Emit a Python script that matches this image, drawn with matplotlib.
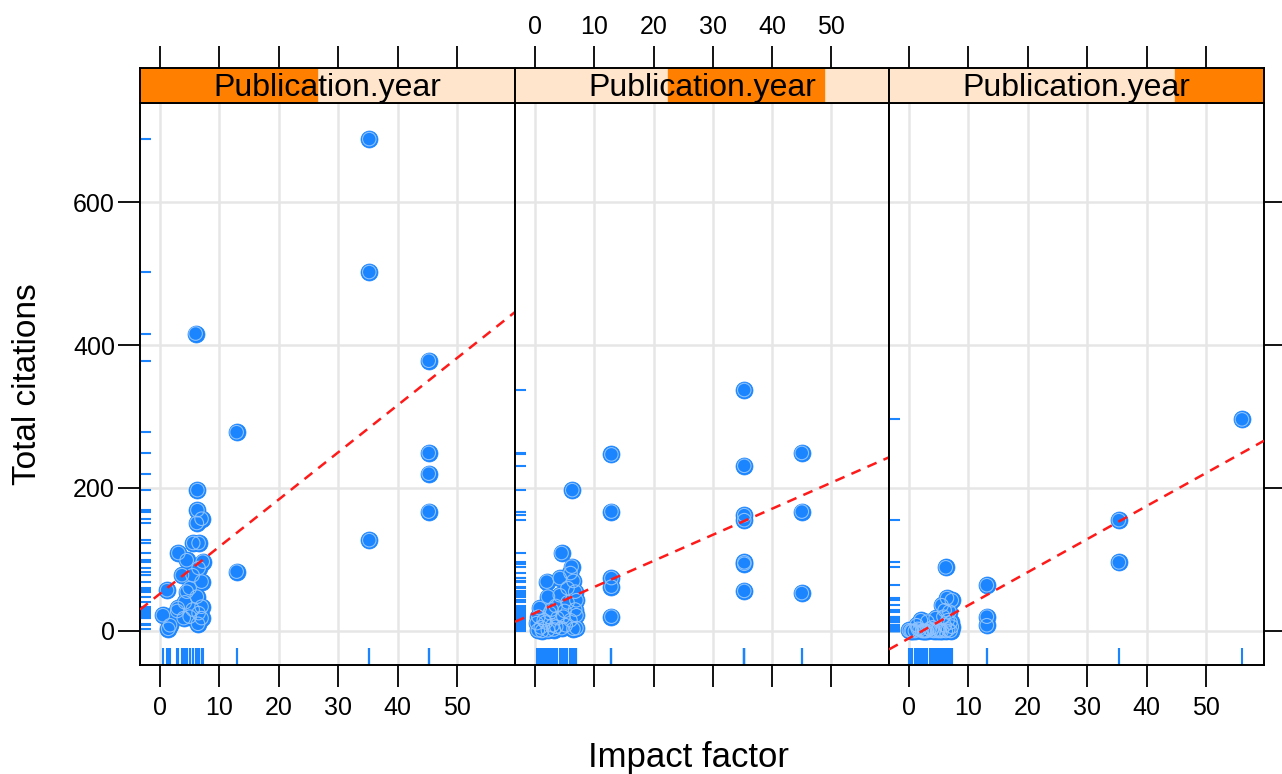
import numpy as np
import matplotlib
matplotlib.use("Agg")
import matplotlib.pyplot as plt

plt.rcParams['font.family'] = ['Liberation Sans', 'DejaVu Sans']

# ---------------- data ----------------
p1_x = [35.2, 35.2, 6.0, 45.2, 12.9, 45.2, 45.2, 45.2, 35.2, 12.9,
        6.3, 6.3, 7.0, 6.2, 5.6, 6.5, 3.1, 4.5, 7.2, 3.7, 5.5, 7.0, 4.5, 1.2,
        6.2, 3.0, 7.0, 5.0, 7.0, 0.5, 1.4, 4.2, 5.5, 6.5, 5.0, 6.5, 2.9, 1.7,
        6.4, 4.0]
p1_y = [688, 502, 416, 378, 278, 249, 220, 167, 127, 83,
        197, 169, 157, 151, 123, 123, 109, 99, 97, 78, 78, 69, 55, 57,
        48, 32, 34, 20, 18, 22, 3, 40, 30, 25, 60, 88, 28, 8,
        10, 18]

p2_x = [35.3, 35.3, 35.3, 35.3, 35.3, 35.3, 35.3, 45.0, 45.0, 45.0,
        12.9, 12.9, 12.9, 12.9, 12.9, 6.3,
        4.5, 6.2, 6.0, 2.0, 4.2, 2.2, 4.2, 7.0, 0.8, 2.5, 7.0, 0.3, 0.5,
        2.2, 4.5, 7.0, 5.5, 6.5, 3.5, 5.0, 6.0, 1.5, 3.0, 5.5, 6.8,
        1.0, 1.8, 3.2, 3.8, 5.2, 6.5, 2.8, 4.8, 0.6, 6.8, 1.2, 3.6]
p2_y = [337, 231, 162, 155, 96, 94, 56, 249, 167, 53,
        247, 167, 74, 62, 20, 197,
        109, 90, 81, 69, 74, 48, 50, 43, 32, 25, 22, 11, 1,
        1, 4, 4, 60, 70, 35, 28, 15, 15, 8, 40, 55,
        5, 12, 2, 18, 8, 3, 30, 20, 20, 30, 0, 6]

p3_x = [56.0, 35.3, 35.3, 13.1, 13.1, 13.1, 6.2, 6.4, 7.2, 5.5, 6.0, 6.8,
        4.5, 3.1, 2.0, 1.3, 0.0, 2.5, 5.0, 7.2, 6.5, 5.8, 4.0, 3.5, 1.8,
        0.5, 6.0, 7.0,
        0.3, 1.0, 2.2, 3.0, 4.2, 5.5, 6.2, 7.0, 1.5, 4.8, 3.8, 6.6,
        2.7, 5.2]
p3_y = [296, 155, 96, 64, 20, 8, 89, 46, 43, 36, 29, 27,
        18, 13, 15, 8, 1, 0, 2, 6, 15, 20, 5, 3, 2,
        0, 8, 12,
        0, 0, 0, 0, 0, 0, 0, 0, 3, 0, 1, 2,
        0, 0]

panels_x = [p1_x, p2_x, p3_x]
panels_y = [p1_y, p2_y, p3_y]

# shingle level intervals of Publication.year, as fraction of the year range
shingle_lo = [0.0, 0.41, 0.763]
shingle_hi = [0.472, 0.826, 1.0]
strip_label = "Publication.year"

x_ticks = [0, 10, 20, 30, 40, 50]
y_ticks = [0, 200, 400, 600]
x_label = "Impact factor"
y_label = "Total citations"

# ---------------- layout ----------------
W, H = 1282, 774
fig = plt.figure(figsize=(W / 100, H / 100), dpi=100)

left_px = [140, 515, 889]
right_px = [515, 889, 1264]
top_px, bot_px = 103, 665
strip_top = 68

xlim = (-3.35, 59.7)
ylim = (-47.6, 738.5)

blue = '#1a85ff'
ring = '#8ec2ff'
red = '#ff1a1a'
grid_c = '#e6e6e6'
orange = '#ff7f00'
beige = '#ffe5cc'
tick_fs = 18
lw_frame = 1.4

for i in range(3):
    l = left_px[i] / W
    w = (right_px[i] - left_px[i]) / W
    b = (H - bot_px) / H
    h = (bot_px - top_px) / H
    ax = fig.add_axes([l, b, w, h])
    ax.set_xlim(*xlim)
    ax.set_ylim(*ylim)
    for s in ax.spines.values():
        s.set_linewidth(lw_frame)
    # grid
    for xv in x_ticks:
        ax.axvline(xv, color=grid_c, lw=1.8, zorder=0)
    for yv in y_ticks:
        ax.axhline(yv, color=grid_c, lw=1.8, zorder=0)

    xs = np.array(panels_x[i], dtype=float)
    ys = np.array(panels_y[i], dtype=float)
    # points
    ax.scatter(xs, ys, s=150, facecolor=blue, edgecolor=blue, linewidth=0.5, zorder=3)
    ax.scatter(xs, ys, s=95, facecolor='none', edgecolor=ring, linewidth=0.8, zorder=4)
    # rugs
    ax.vlines(xs, 0, 0.03, transform=ax.get_xaxis_transform(), color=blue, lw=1.5, zorder=2)
    ax.hlines(ys, 0, 0.03, transform=ax.get_yaxis_transform(), color=blue, lw=1.5, zorder=2)
    # regression line
    slope, intercept = np.polyfit(xs, ys, 1)
    ax.axline((0, intercept), slope=slope, color=red, lw=1.8, ls=(0, (4, 3)), zorder=5)

    # ticks
    ax.tick_params(direction='out', length=16, width=1.3, labelsize=tick_fs, pad=6)
    ax.tick_params(axis='y', pad=2)
    ax.set_xticks(x_ticks)
    ax.set_yticks(y_ticks)
    ax.tick_params(axis='x', bottom=True, top=False, labelbottom=(i != 1))
    if i == 0:
        ax.tick_params(axis='y', left=True, right=False, labelleft=True)
    elif i == 2:
        ax.tick_params(axis='y', left=False, right=True, labelleft=False, labelright=False)
    else:
        ax.tick_params(axis='y', left=False, right=False, labelleft=False)

    # strip
    sb = (H - top_px) / H
    sh = (top_px - strip_top) / H
    sax = fig.add_axes([l, sb, w, sh])
    sax.set_xlim(*xlim)
    sax.set_ylim(0, 1)
    sax.axvspan(xlim[0], xlim[1], color=beige, zorder=0)
    lo = xlim[0] + shingle_lo[i] * (xlim[1] - xlim[0])
    hi = xlim[0] + shingle_hi[i] * (xlim[1] - xlim[0])
    sax.axvspan(lo, hi, color=orange, zorder=1)
    sax.text(0.5, 0.42, strip_label, transform=sax.transAxes, ha='center', va='center',
             fontsize=23, color='black', zorder=3)
    for s in sax.spines.values():
        s.set_linewidth(lw_frame)
    sax.set_yticks([])
    sax.set_xticks(x_ticks)
    sax.tick_params(axis='x', bottom=False, top=True, labelbottom=False, labeltop=(i == 1),
                    direction='out', length=16, width=1.3, labelsize=tick_fs, pad=5)

fig.text(689 / W, 1 - 758 / H, x_label, ha='center', va='center', fontsize=25)
fig.text(28 / W, 1 - 384 / H, y_label, ha='center', va='center', rotation=90, fontsize=24)

fig.savefig('out.png', dpi=100, facecolor='white')
